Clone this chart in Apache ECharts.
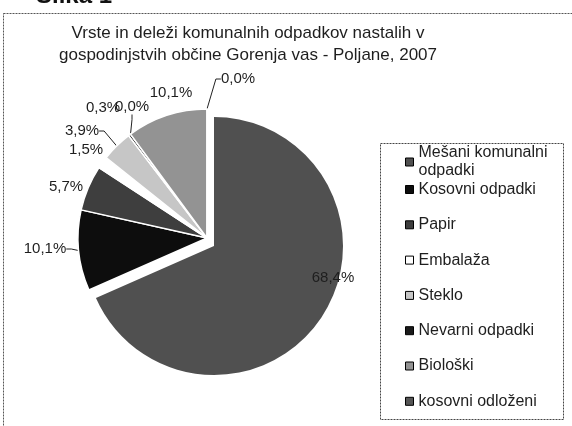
<!DOCTYPE html>
<html>
<head>
<meta charset="utf-8">
<script src="https://cdn.jsdelivr.net/npm/echarts@6/dist/echarts.min.js"></script>
<style>
html,body{margin:0;padding:0;background:#fff;}
#c{width:572px;height:426px;}
</style>
</head>
<body>
<div id="c"></div>
<script>
// ---- data ----
const categories = [
  'Mešani komunalni odpadki',
  'Kosovni odpadki',
  'Papir',
  'Embalaža',
  'Steklo',
  'Nevarni odpadki',
  'Ostalo',
  'Biološki',
  'kosovni odloženi'
];
const values = [68.4, 10.1, 5.7, 1.5, 3.9, 0.3, 0.0, 10.1, 0.0];
const legendFirst = ['Mešani komunalni odpadki'];
const legendRest = ['Kosovni odpadki','Papir','Embalaža','Steklo','Nevarni odpadki','Biološki','kosovni odloženi'];
const titleText = 'Vrste in deleži komunalnih odpadkov nastalih v\ngospodinjstvih občine Gorenja vas - Poljane, 2007';

// ---- styles ----
const colors = ['#505050','#0d0d0d','#3e3e3e','#ffffff','#c6c6c6','#1a1a1a','#666666','#939393','#555555'];
const labelPos = [[333,278],[45,249],[66,187],[86,150],[82,131],[103,108],[132,107],[171,93],[238,79]];
const showLine = [false,true,false,false,true,false,true,false,true];
const pieCenter = [207,238];
const explodeShift = [7,8];
const exploded = 0;

const chart = echarts.init(document.getElementById('c'), null, {renderer:'canvas'});
const font = '"Liberation Sans", Arial, sans-serif';
const fmt = p=>p.value.toFixed(1).replace('.',',')+'%';

function makeData(mainLayer){
  return categories.map((n,i)=>{
    const visible = mainLayer ? i!==exploded : i===exploded;
    return {
      name:n,
      value:values[i],
      itemStyle: visible ? {color:colors[i]} : {color:'rgba(0,0,0,0)',borderWidth:0},
      label:{show:visible},
      labelLine:{show:visible && showLine[i]}
    };
  });
}
function legendItems(names){
  return names.map(n=>({name:n,itemStyle:{color:colors[categories.indexOf(n)],borderColor:'#000',borderWidth:1}}));
}

const pieBase = {
  type:'pie',
  radius:129,
  startAngle:90,
  clockwise:true,
  avoidLabelOverlap:false,
  minShowLabelAngle:0,
  emphasis:{disabled:true},
  itemStyle:{borderColor:'#fff',borderWidth:1.5},
  label:{
    position:'outside',
    fontFamily:font, fontSize:15, color:'#1e1e1e',
    formatter:fmt
  },
  labelLine:{length:5,length2:5,lineStyle:{color:'#222',width:1}},
  labelLayout:function(p){
    const xy = labelPos[p.dataIndex];
    return {x:xy[0], y:xy[1], align:'center', verticalAlign:'middle'};
  }
};

chart.setOption({
  backgroundColor:'#fff',
  animation:false,
  title:{
    text:titleText,
    left:248, top:22, textAlign:'center', padding:0,
    textStyle:{fontFamily:font,fontSize:17,fontWeight:'normal',color:'#1e1e1e',lineHeight:22}
  },
  legend:[{
    data:legendItems(legendFirst),
    orient:'vertical', left:405, top:144, padding:0,
    itemWidth:8, itemHeight:8, icon:'rect',
    formatter:n=>n.replace('komunalni ','komunalni\n'),
    textStyle:{fontFamily:font,fontSize:16,color:'#1e1e1e',lineHeight:18},
    selectedMode:false
  },{
    data:legendItems(legendRest),
    orient:'vertical', left:405, top:180.5, padding:0, itemGap:17.3,
    itemWidth:8, itemHeight:8, icon:'rect',
    textStyle:{fontFamily:font,fontSize:16,color:'#1e1e1e',lineHeight:18},
    selectedMode:false
  }],
  graphic:[
    {type:'rect', shape:{x:3.5,y:13.5,width:600,height:500}, style:{fill:'none',stroke:'#555',lineWidth:1,lineDash:[2,1]}, silent:true},
    {type:'rect', shape:{x:380.5,y:143.5,width:183,height:276}, style:{fill:'none',stroke:'#444',lineWidth:1,lineDash:[2,1]}, silent:true, z:-1},
    {type:'text', x:36, y:8, style:{text:'Slika 1', font:'bold 24px '+font, fill:'#111', verticalAlign:'bottom'}, silent:true}
  ],
  series:[
    Object.assign({}, pieBase, {center:pieCenter, data:makeData(true)}),
    Object.assign({}, pieBase, {center:[pieCenter[0]+explodeShift[0], pieCenter[1]+explodeShift[1]], data:makeData(false), itemStyle:{borderWidth:0}})
  ]
});
</script>
</body>
</html>
